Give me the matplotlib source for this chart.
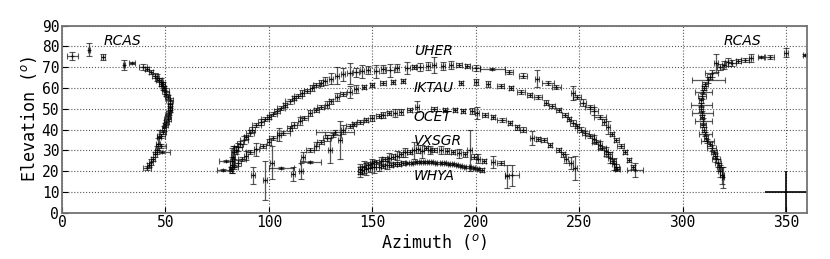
import matplotlib
matplotlib.use("Agg")
import matplotlib.pyplot as plt

# star tracks: azimuth, elevation, azimuth error, elevation error (degrees)
RCAS_AZ = [5, 13, 20, 30, 34, 39, 41, 43, 45, 46, 47, 48, 48.5, 49, 49.5, 50, 50.5, 51, 52, 52,
           52, 52, 51.5, 51, 51, 50.5, 50, 49.5, 49, 48, 47, 46.5, 48, 46, 48.5, 45, 44, 43, 42, 41,
           319.5, 319, 318, 317.5, 317, 316, 315.5, 315, 314, 313, 312, 311.5, 311, 310.5, 310, 310,
           309.5, 309.5, 309, 309, 309, 309.5, 310, 310.5, 311, 312.5, 313, 314, 316, 318, 320, 322,
           324, 327, 330, 333, 338, 342, 350, 359]
RCAS_EL = [75.5, 78.5, 75, 71, 72, 70, 69, 67.5, 66, 65, 64, 63, 62, 61, 60, 58.5, 57, 55.5, 54, 52.5,
           51, 49.5, 48, 46.5, 45, 43.5, 42, 40.5, 39, 37, 36.5, 33, 32, 30, 29, 28, 26, 24.5, 23, 21.5,
           17, 18, 20, 22, 24, 26, 27.5, 29, 31, 33, 34.5, 36, 38, 40, 42, 44,
           46, 48, 50, 52, 54, 56, 58, 60, 62, 64, 65.5, 67, 72, 70, 71, 72.5,
           72, 73, 73.5, 74.5, 75, 75, 77, 76]
RCAS_DAZ = [2.5, 0.5, 1, 0.5, 1.5, 2, 1, 1, 1.5, 1, 1.5, 1, 1.5, 1, 1, 1.5, 1, 1, 1.5, 1,
            1, 1, 1, 1, 1.5, 1, 1, 1, 1.5, 2, 1, 1, 2.5, 1, 3.5, 1, 1, 1, 1, 2,
            0.5, 1, 1, 1, 1.5, 2, 1, 1.5, 2, 1, 3, 1, 3, 1, 1.5, 4,
            1, 5, 1, 5, 1, 2, 4, 1, 1.5, 8, 1, 3, 1, 1.5, 1, 1.5,
            2, 1, 2, 1, 1.5, 2, 1, 1]
RCAS_DEL = [1.8, 3, 1.5, 2.5, 0.5, 1.5, 1, 1, 1, 1.5, 1, 2, 1, 2, 1, 1.5, 1, 1, 1, 1,
            1.5, 1, 1, 1, 1, 1, 1, 1, 1, 1, 3.5, 3, 1, 2, 0.5, 1, 1, 1.5, 1, 1,
            5, 4, 3, 2, 2, 1.5, 1, 1, 1.5, 1, 1, 1.5, 1, 1, 1, 1.5,
            1, 1, 1.5, 1, 1, 1.5, 1, 1, 1, 1.5, 1, 1.5, 4.5, 1.5, 2, 2,
            1.5, 1, 1, 2, 0.5, 1, 2, 0.5]

UHER_AZ = [79.5, 78, 81.5, 82, 82, 82.5, 83, 84, 85, 86, 88, 89, 91, 92, 94, 96, 98, 100, 102, 104,
           106, 108, 110, 112, 114, 116, 118.5, 121, 123, 125, 127, 130, 133, 136, 139, 142, 145, 148,
           152, 155, 158.5, 162, 167, 170, 173, 177, 180, 184, 188, 192, 196, 200, 208, 216, 223,
           229.5, 235, 239, 247, 249, 252, 255, 257, 260, 262, 264, 266, 268, 270, 272, 274, 276, 277]
UHER_EL = [25, 20.5, 21, 23, 25, 27, 29, 30, 31.5, 33, 35, 36.5, 38.5, 40, 42, 43.5, 45, 46, 47.5, 49,
           50.5, 52, 53.5, 55, 56, 57.5, 58.5, 60, 61.5, 62.5, 63.5, 64.5, 66, 66.5, 67, 67.5, 68, 68.5,
           68, 69, 68.5, 69.5, 69.5, 70, 70, 70.5, 71, 70.5, 71, 71, 70.5, 69.5, 69, 67.5, 66,
           64.5, 62.5, 60.5, 57.5, 55.5, 53, 51, 49, 46, 43.5, 41, 38, 35, 32, 29, 25.5, 22, 20.5]
UHER_DAZ = [3.5, 3, 1, 1, 1, 1, 1.5, 1, 2, 1.5, 2, 1, 2, 1.5, 2, 1.5, 2, 1, 2, 1.5,
            2, 1, 2, 1, 2, 1, 1.5, 1, 1.5, 1, 1, 1, 1, 1, 1, 1.5, 1, 1,
            1, 1, 2, 1, 1, 1, 1.5, 1, 1, 1, 1, 1.5, 1, 2, 6, 2, 2,
            1, 3, 2, 1, 2, 1.5, 2, 2, 3, 1, 1, 1, 1, 1.5, 1, 1, 1, 4]
UHER_DEL = [0.5, 0.5, 1, 4, 6, 5, 3, 2, 2, 1.5, 2, 1, 1.5, 1, 1, 1.5, 1, 1, 1, 1,
            1, 1, 1, 1, 1, 1.5, 1, 1.5, 1, 1.5, 2, 2.5, 4, 3, 5, 2, 3, 2,
            3, 2, 3, 2, 3, 1, 2, 2, 4, 2, 2, 1, 1, 1.5, 0.5, 1, 1,
            4, 1, 1, 3.5, 1, 1.5, 1, 2, 1, 1.5, 3, 1, 1, 1, 1, 1, 1, 3.5]

IKTAU_AZ = [83, 85, 87, 89, 91, 94, 97, 100, 102, 105, 107, 110, 112, 115, 117, 120, 123, 125, 128, 130,
            133, 136, 139, 142, 146, 150, 155, 160, 165, 193, 200, 206, 212, 217, 222, 226, 230, 234,
            237, 240, 243, 245, 247, 249, 251, 253, 255, 257, 258, 260, 261, 263, 264, 265, 266.5,
            267, 268, 268.5]
IKTAU_EL = [22, 24, 26, 27.5, 29, 30.5, 32, 34, 36, 37.5, 38.5, 40.5, 42, 44, 45.5, 48, 49.5, 51, 52, 53.5,
            55.5, 57, 58, 59.5, 60.5, 61.5, 62.5, 63, 63.5, 62.5, 63, 62, 61, 60, 58, 56.5, 55.5, 53,
            51.5, 49.5, 47, 45, 43, 41.5, 40, 38.5, 37, 35.5, 34, 32.5, 31, 29.5, 28, 26.5, 25,
            23.5, 22, 21]
IKTAU_DAZ = [2, 1.5, 2, 1, 2, 1, 1.5, 1, 2, 1, 3, 1, 1.5, 1, 2, 1, 1, 1.5, 1, 1,
             1, 1.5, 1, 1, 1, 1, 1.5, 1, 1, 1, 1, 1, 1.5, 1, 2, 1, 2, 1,
             1.5, 1, 1.5, 1, 1.5, 1, 2, 1.5, 2, 1, 2, 1, 2, 1, 2, 1, 1.5,
             1, 1, 1]
IKTAU_DEL = [1, 1.5, 1, 2, 1, 3, 1, 1.5, 1, 3, 1, 1, 1.5, 2, 1, 1.5, 1, 1, 1.5, 1,
             2, 1, 3, 2, 1, 1, 1, 1, 1, 1, 1.5, 1.5, 1, 1, 1, 1, 1, 1,
             1, 1, 1, 1, 1.5, 1, 1, 1, 1, 2, 1, 2, 1, 2, 1, 2.5, 1,
             3, 1.5, 1]

OCET_AZ = [92.5, 98, 101.5, 106, 111.5, 115.5, 120, 116.5, 120, 123, 125, 128, 129.5, 132, 134.5, 131,
           136, 139, 141, 144, 147, 150, 153, 155, 158, 161, 164, 168, 171.5, 180, 185, 190, 194, 198,
           200.5, 204.5, 208.5, 212.5, 216.5, 220, 223, 227, 230, 233, 236, 240, 242, 243.5, 246, 248]
OCET_EL = [18, 15.5, 24, 21.5, 18.5, 20, 24.5, 27, 30, 32, 34, 36, 30, 39, 35, 37.5,
           40, 41.5, 42.5, 43.5, 44.5, 45.5, 46.5, 47, 48, 48, 48.5, 49.5, 51, 50, 49.5, 49.5, 49, 49,
           48, 47, 46, 44.5, 43, 41, 40, 36, 35.5, 35, 32.5, 30, 28, 26, 24, 21.5]
OCET_DAZ = [1, 1, 1, 6, 1, 1, 5, 1, 2, 1, 1.5, 2, 1, 9, 1, 4,
            1, 1.5, 1, 1.5, 1, 1, 1, 1, 1, 1, 1, 1, 1, 1.5, 1, 1, 1, 1,
            1, 1.5, 1, 2, 1, 1, 1.5, 1, 1, 1.5, 1, 1, 1, 1, 1, 1]
OCET_DEL = [4, 9.5, 8, 0.5, 3.5, 4, 0.5, 2, 1, 2, 1, 1.5, 6, 1, 9, 1,
            2, 1, 1, 1, 1, 1.5, 1, 1.5, 1, 2, 1.5, 1, 2.5, 1, 1, 1, 1, 1.5,
            3, 1, 1, 1, 1, 1, 1, 3.5, 1, 1, 1, 1, 1, 2, 3, 6]

VXSGR_AZ = [144, 146, 148, 150, 152, 154, 156, 158, 160, 162, 164, 166, 168, 170, 172, 174, 176, 178,
            180, 183, 186, 189, 192, 195, 197, 199, 201, 204, 208.5, 212, 215, 217.5]
VXSGR_EL = [21, 22, 23, 24, 24.5, 25, 26, 26.5, 27, 27.5, 28, 29, 29, 30, 30.5, 29.5, 31, 30,
            30, 30, 29.5, 29, 28.5, 28, 30, 27, 26, 25, 24.5, 24, 17.5, 18]
VXSGR_DAZ = [1, 1, 1.5, 1, 2, 1, 1.5, 1, 1, 1, 1, 1, 1, 1, 1, 1, 1, 1,
             1.5, 1, 1, 1, 1, 1, 1, 1.5, 1, 1, 1, 1.5, 1, 3.5]
VXSGR_DEL = [2.5, 3, 1.5, 2, 1, 2, 1, 2, 1, 2, 1, 2, 1, 4, 2, 3, 1, 2,
             1, 2, 1.5, 1, 2, 1, 10, 1, 2, 1, 3, 1, 5.5, 5]

WHYA_AZ = [144, 145, 147, 149, 151, 153, 155, 157, 159, 161, 163, 165, 167, 169, 171, 173, 175, 177,
           179, 181, 183, 185, 187, 189, 191, 193, 195, 197, 199, 201, 203]
WHYA_EL = [19.5, 20.5, 21, 21.5, 22, 22, 22.5, 23, 23, 23.5, 23.5, 24, 24, 24, 24.5, 24.5, 24.5, 24.5,
           24.5, 24, 24, 24, 23.5, 23.5, 23, 22.5, 22, 22, 21.5, 21, 20.5]
WHYA_DAZ = [1, 1, 1, 1, 1, 1, 1, 1, 1, 1, 1, 1, 0.5, 0.5, 0.5, 0.5, 0.5, 0.5,
            0.5, 0.5, 0.5, 0.5, 0.5, 0.5, 0.5, 0.5, 0.5, 0.5, 0.5, 0.5, 1]
WHYA_DEL = [2.5, 2, 3, 2, 3, 2, 1, 2, 1, 1, 1, 1, 0.5, 0.5, 0.5, 0.5, 0.5, 0.5,
            0.5, 0.5, 0.5, 0.5, 0.5, 0.5, 0.5, 0.5, 0.5, 0.5, 0.5, 0.5, 1]

# star name labels: text, azimuth, elevation
LABELS = ["RCAS", "RCAS", "UHER", "IKTAU", "OCET", "VXSGR", "WHYA"]
LABEL_AZ = [20, 320, 170, 170, 170, 170, 170]
LABEL_EL = [82.5, 82.5, 78, 60, 46, 34.5, 17.5]

# typical error cross drawn in the corner
REF_AZ, REF_EL, REF_DAZ, REF_DEL = [350], [10], [10], [10]

plt.rcParams['font.family'] = ['DejaVu Sans Mono', 'DejaVu Sans']
plt.rcParams['mathtext.fontset'] = 'dejavusans'

fig = plt.figure(figsize=(8.3, 2.59), dpi=100)
ax = fig.add_axes([0.0747, 0.179, 0.8973, 0.722])

tracks = [
    (RCAS_AZ, RCAS_EL, RCAS_DAZ, RCAS_DEL),
    (UHER_AZ, UHER_EL, UHER_DAZ, UHER_DEL),
    (IKTAU_AZ, IKTAU_EL, IKTAU_DAZ, IKTAU_DEL),
    (OCET_AZ, OCET_EL, OCET_DAZ, OCET_DEL),
    (VXSGR_AZ, VXSGR_EL, VXSGR_DAZ, VXSGR_DEL),
    (WHYA_AZ, WHYA_EL, WHYA_DAZ, WHYA_DEL),
]
for az, el, daz, de in tracks:
    ax.errorbar(az, el, xerr=daz, yerr=de, fmt='+', color='k', ms=3, mew=0.8,
                ecolor='k', elinewidth=0.9, capsize=2, capthick=0.8, alpha=0.65)

ax.errorbar(REF_AZ, REF_EL, xerr=REF_DAZ, yerr=REF_DEL, fmt='none',
            ecolor='k', elinewidth=1.4, capsize=0, alpha=0.85)

for name, x, y in zip(LABELS, LABEL_AZ, LABEL_EL):
    ax.text(x, y, name, family='DejaVu Sans', style='italic', fontsize=10,
            ha='left', va='center')

ax.set_xlim(0, 360)
ax.set_ylim(0, 90)
ax.set_xticks(range(0, 360, 50))
ax.set_yticks(range(0, 91, 10))
ax.grid(True, linestyle=':', color='0.35', linewidth=0.8)
ax.tick_params(direction='in', labelsize=10.5, length=4, pad=2)
for s in ax.spines.values():
    s.set_color('0.45')
    s.set_linewidth(1.3)
ax.set_xlabel('Azimuth ($^o$)', fontsize=12, labelpad=1)
ax.set_ylabel('Elevation ($^o$)', fontsize=12, labelpad=2)

fig.savefig('out.png', dpi=100)
